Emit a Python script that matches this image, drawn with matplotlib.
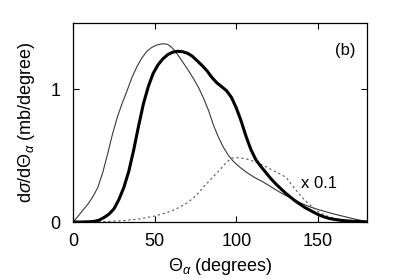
import matplotlib
matplotlib.use("Agg")
import matplotlib.pyplot as plt

plt.rcParams['font.family'] = ['Liberation Sans', 'DejaVu Sans']
plt.rcParams['mathtext.fontset'] = 'custom'
plt.rcParams['mathtext.rm'] = 'Liberation Sans'
plt.rcParams['mathtext.it'] = 'Liberation Sans:italic'

thin_x = [0, 3, 6, 9, 12, 15, 18, 21, 24, 27, 30, 33, 36, 39, 42, 45, 48, 51, 54, 56, 58,
          60, 62, 65, 68, 71, 74, 77, 80, 83, 86, 89, 92, 95, 98, 101, 104, 108, 112, 116,
          120, 124, 128, 132, 136, 140, 145, 150, 155, 160, 165, 170, 175, 180]
thin_y = [0, 0.045, 0.09, 0.135, 0.19, 0.26, 0.37, 0.51, 0.66, 0.79, 0.895, 0.99, 1.09,
          1.17, 1.235, 1.285, 1.315, 1.333, 1.342, 1.343, 1.338, 1.32, 1.295, 1.245, 1.19,
          1.135, 1.075, 1.01, 0.93, 0.84, 0.73, 0.64, 0.565, 0.505, 0.46, 0.425, 0.395, 0.36,
          0.33, 0.305, 0.275, 0.245, 0.215, 0.19, 0.165, 0.14, 0.115, 0.095, 0.077, 0.06,
          0.045, 0.03, 0.016, 0.003]

thick_x = [0, 5, 10, 13, 16, 19, 22, 25, 28, 31, 34, 37, 40, 43, 46, 49, 52, 55, 58, 61,
           64, 67, 70, 73, 76, 79, 82, 85, 88, 91, 94, 97, 100, 103, 106, 109, 112, 115, 118,
           121, 124, 127, 130, 133, 136, 139, 142, 145, 148, 151, 154, 157, 160, 164, 168,
           172, 176, 180]
thick_y = [0, 0, 0.002, 0.005, 0.015, 0.035, 0.06, 0.1, 0.17, 0.26, 0.38, 0.54, 0.72, 0.89,
           1.02, 1.12, 1.185, 1.23, 1.262, 1.28, 1.287, 1.284, 1.272, 1.25, 1.215, 1.18, 1.14,
           1.09, 1.05, 1.02, 0.99, 0.94, 0.86, 0.76, 0.645, 0.545, 0.47, 0.42, 0.375, 0.33,
           0.29, 0.255, 0.22, 0.19, 0.16, 0.135, 0.11, 0.09, 0.07, 0.052, 0.038, 0.027, 0.02,
           0.013, 0.008, 0.005, 0.003, 0.001]

dot_x = [0, 10, 20, 30, 40, 50, 55, 60, 65, 70, 75, 80, 85, 90, 94, 97, 100, 104, 108, 112,
         116, 120, 124, 128, 131, 134, 137, 140, 143, 146, 149, 152, 155, 158, 162, 166, 170,
         175, 180]
dot_y = [0, 0, 0.003, 0.01, 0.022, 0.045, 0.062, 0.082, 0.11, 0.145, 0.195, 0.265, 0.33,
         0.395, 0.45, 0.48, 0.485, 0.48, 0.47, 0.45, 0.43, 0.405, 0.38, 0.355, 0.33, 0.28,
         0.235, 0.19, 0.153, 0.12, 0.09, 0.065, 0.048, 0.035, 0.022, 0.012, 0.005, 0.001, 0]

x_ticks = [0, 50, 100, 150]
y_ticks = [0, 1]

fig = plt.figure(figsize=(3.99, 2.79), dpi=100)
ax = fig.add_axes([0.1837, 0.2043, 0.919 - 0.1837, 0.9176 - 0.2043])

ax.plot(thin_x, thin_y, color='#3a3a3a', lw=0.8)
ax.plot(dot_x, dot_y, color='#555555', lw=0.8, linestyle=(0, (2, 2.5)))
ax.plot(thick_x, thick_y, color='black', lw=2.2)

ax.set_xlim(0, 180)
ax.set_ylim(0, 1.5)
ax.set_xticks(x_ticks)
ax.set_yticks(y_ticks)
ax.tick_params(direction='in', top=True, right=True, length=4, width=0.8, labelsize=13)
ax.tick_params(axis='x', pad=8)
ax.tick_params(axis='y', pad=9)
for s in ax.spines.values():
    s.set_linewidth(0.9)

ax.text(167, 1.29, '(b)', fontsize=12, ha='center', va='center')
ax.text(140, 0.29, 'x 0.1', fontsize=12, ha='left', va='center')

ax.set_xlabel(r'$\Theta_\alpha$ (degrees)', fontsize=13, labelpad=4)
ax.set_ylabel(r'd$\sigma$/d$\Theta_\alpha$ (mb/degree)', fontsize=13, labelpad=10)

fig.savefig('out.png', dpi=100)
